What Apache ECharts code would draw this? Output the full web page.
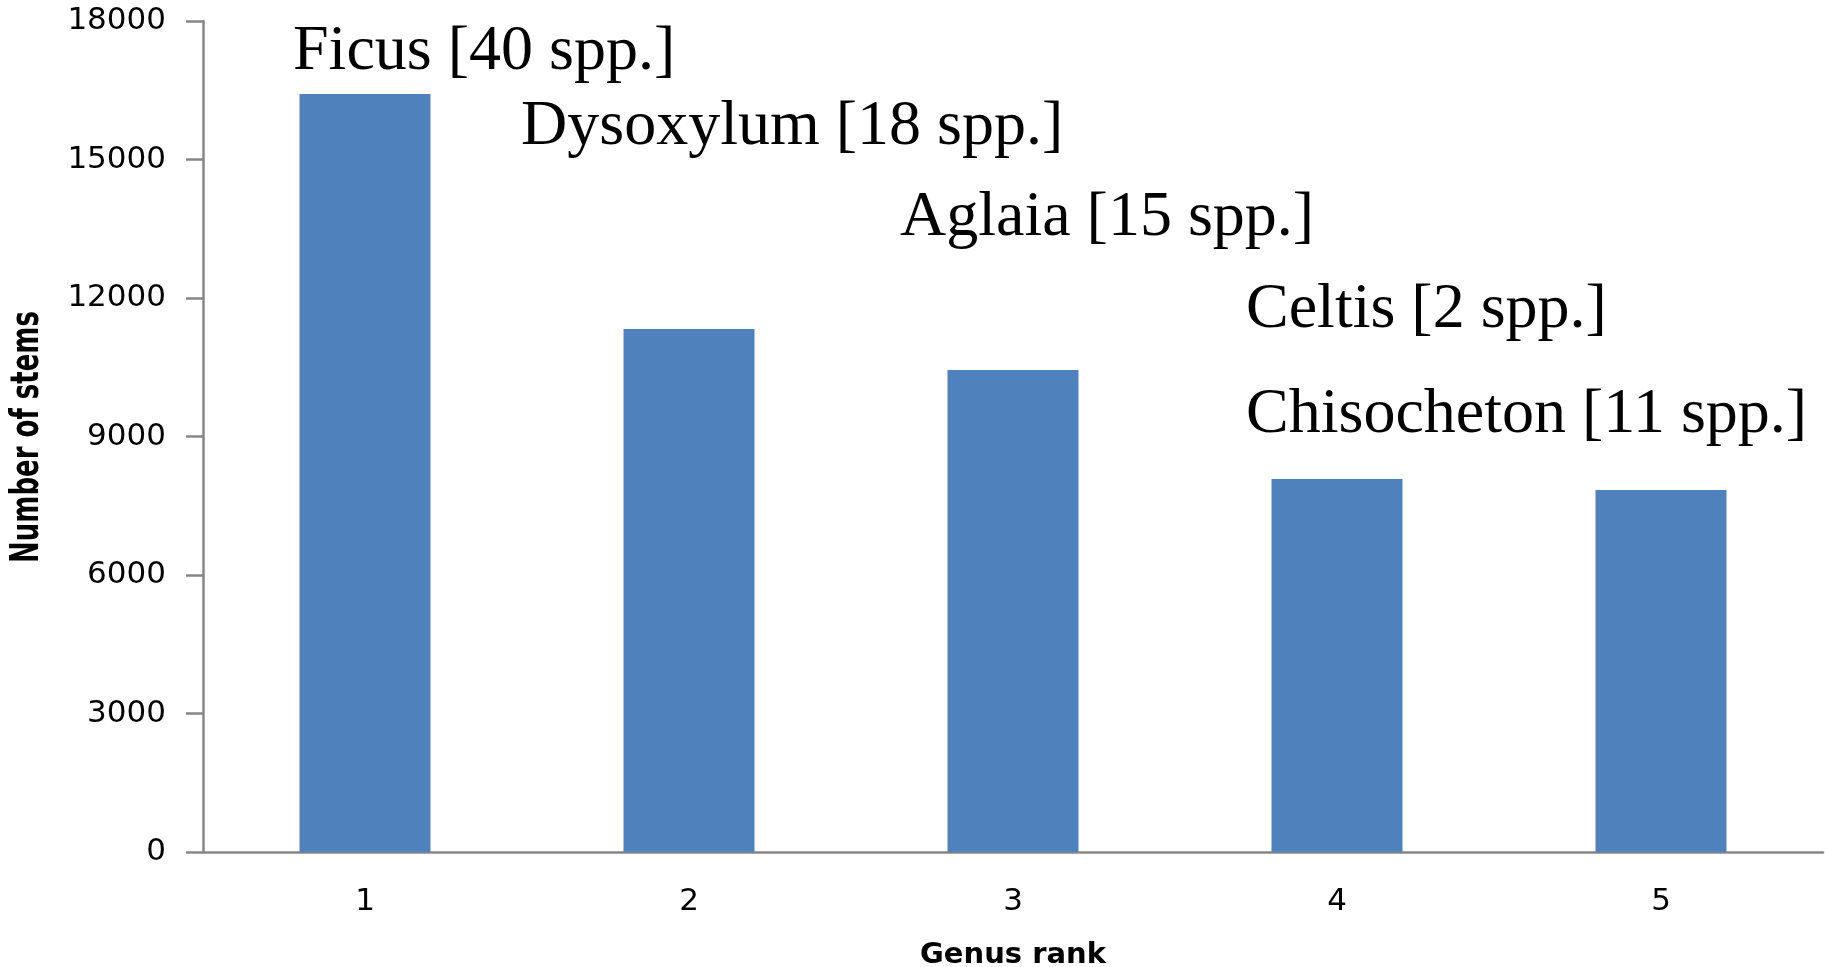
<!DOCTYPE html>
<html>
<head>
<meta charset="utf-8">
<script src="https://cdn.jsdelivr.net/npm/echarts@6/dist/echarts.min.js"></script>
<style>
html,body{margin:0;padding:0;background:#fff;}
#chart{width:1825px;height:967px;}
</style>
</head>
<body>
<div id="chart"></div>
<script>
const categories = ['1', '2', '3', '4', '5'];
const stems = [16420, 11330, 10440, 8080, 7840];
const genusLabels = ['Ficus [40 spp.]', 'Dysoxylum [18 spp.]', 'Aglaia [15 spp.]', 'Celtis [2 spp.]', 'Chisocheton [11 spp.]'];
const yTicks = [0, 3000, 6000, 9000, 12000, 15000, 18000];
const yTitle = 'Number of stems';

const labelPos = [[293, 56], [521, 131], [900, 222], [1246, 314], [1246, 419]];

const chart = echarts.init(document.getElementById('chart'), null, {renderer: 'canvas'});
const axisFont = 'DejaVu Sans, Verdana, sans-serif';
const graphics = genusLabels.map((t, i) => ({
  type: 'text',
  left: labelPos[i][0],
  top: labelPos[i][1] - 36,
  style: {
    text: t,
    font: '64px "Liberation Serif", "Times New Roman", serif',
    fill: '#000'
  }
}));
graphics.push({
  type: 'text',
  x: 28,
  y: 437,
  rotation: Math.PI / 2,
  scaleY: 1.5,
  style: {
    text: yTitle,
    font: 'bold 26px "DejaVu Sans", Verdana, sans-serif',
    fill: '#000',
    align: 'center',
    verticalAlign: 'middle'
  }
});
chart.setOption({
  animation: false,
  backgroundColor: '#ffffff',
  grid: {left: 203, top: 21, width: 1620, height: 831, containLabel: false, outerBoundsMode: 'none'},
  xAxis: {
    type: 'category',
    data: categories,
    name: 'Genus rank',
    nameLocation: 'middle',
    nameGap: 89,
    nameTextStyle: {fontFamily: axisFont, fontSize: 29, fontWeight: 'bold', color: '#000'},
    axisLine: {lineStyle: {color: '#868686', width: 2.5}},
    axisTick: {show: false},
    axisLabel: {fontFamily: axisFont, fontSize: 31, color: '#000', margin: 34},
    splitLine: {show: false}
  },
  yAxis: {
    type: 'value',
    min: yTicks[0],
    max: yTicks[yTicks.length - 1],
    interval: 3000,
    axisLine: {show: true, lineStyle: {color: '#868686', width: 2.5}},
    axisTick: {show: true, length: 17, lineStyle: {color: '#868686', width: 2.5}},
    axisLabel: {fontFamily: axisFont, fontSize: 31, color: '#000', margin: 37, formatter: v => String(v)},
    splitLine: {show: false}
  },
  series: [{
    type: 'bar',
    data: stems,
    barWidth: 131,
    itemStyle: {color: '#4F81BD'}
  }],
  graphic: graphics
});
</script>
</body>
</html>
